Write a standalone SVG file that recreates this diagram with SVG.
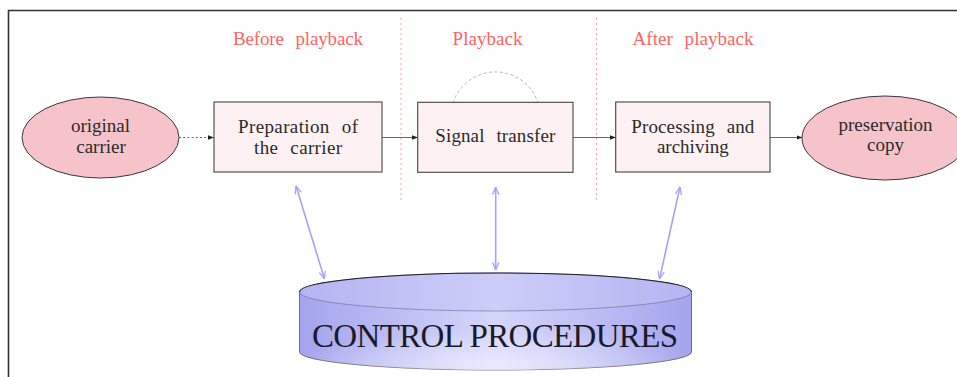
<svg xmlns="http://www.w3.org/2000/svg" width="957" height="377" viewBox="0 0 957 377">
  <style>
    .lbl { font-family: "Liberation Serif", "DejaVu Serif", serif; font-size: 19px; fill: #2b2b2b; text-anchor: middle; word-spacing: 7px; }
    .phase { font-family: "Liberation Serif", "DejaVu Serif", serif; font-size: 19px; fill: #ff6464; text-anchor: middle; word-spacing: 7px; }
    .box { fill: #fdf1f3; stroke: #444; stroke-width: 1.1; }
    .oval { fill: #f6c3ca; stroke: #3a3a3a; stroke-width: 1; }
    .flow { fill: none; stroke: #666; stroke-width: 1; }
    .ctrl { fill: none; stroke: #a3a3ff; stroke-width: 1.6; }
    .sep { fill: none; stroke: #ff9a9a; stroke-width: 0.9; stroke-dasharray: 2 3; }
  </style>
  <defs>
    <marker id="tip" viewBox="0 0 6 6" refX="5.5" refY="3" markerWidth="6" markerHeight="6" markerUnits="userSpaceOnUse" orient="auto">
      <path d="M0,0.8 L6,3 L0,5.2 Z" fill="#222"/>
    </marker>
    <marker id="vtip" viewBox="0 0 10 10" refX="9.5" refY="5" markerWidth="9" markerHeight="9" markerUnits="userSpaceOnUse" orient="auto-start-reverse">
      <path d="M1,1.5 L9.5,5 L1,8.5" fill="none" stroke="#a3a3ff" stroke-width="1.4"/>
    </marker>
    <linearGradient id="cylBody" x1="0" y1="0" x2="1" y2="0">
      <stop offset="0" stop-color="#a4a4ee"/>
      <stop offset="0.5" stop-color="#d6d6fa"/>
      <stop offset="1" stop-color="#a4a4ee"/>
    </linearGradient>
    <radialGradient id="cylGlow" cx="0.5" cy="0.95" r="0.5">
      <stop offset="0" stop-color="#ebebff" stop-opacity="0.9"/>
      <stop offset="1" stop-color="#ebebff" stop-opacity="0"/>
    </radialGradient>
    <linearGradient id="cylTop" x1="0" y1="0" x2="1" y2="0">
      <stop offset="0" stop-color="#b4b4f2"/>
      <stop offset="0.5" stop-color="#cdcdf8"/>
      <stop offset="1" stop-color="#b4b4f2"/>
    </linearGradient>
  </defs>

  <!-- outer frame (top and left edges) -->
  <path d="M8.5,377 L8.5,10.5 L957,10.5" fill="none" stroke="#333" stroke-width="1.6"/>

  <!-- phase separators -->
  <g id="separators">
    <line class="sep" x1="401" y1="18" x2="401" y2="202"/>
    <line class="sep" x1="596.5" y1="18" x2="596.5" y2="202"/>
  </g>

  <!-- phase headings -->
  <g id="headings">
    <text class="phase" x="298" y="45" textLength="130" lengthAdjust="spacing">Before playback</text>
    <text class="phase" x="487.5" y="45" textLength="70" lengthAdjust="spacing">Playback</text>
    <text class="phase" x="693" y="45" textLength="121" lengthAdjust="spacing">After playback</text>
  </g>

  <!-- connectors -->
  <g id="connectors">
    <line class="flow" x1="179" y1="137.5" x2="213.5" y2="137.5" stroke-dasharray="2 2.2" marker-end="url(#tip)"/>
    <line class="flow" x1="382" y1="137.5" x2="417.5" y2="137.5" marker-end="url(#tip)"/>
    <line class="flow" x1="573" y1="137.5" x2="615.5" y2="137.5" marker-end="url(#tip)"/>
    <line class="flow" x1="770" y1="137.5" x2="802" y2="137.5" marker-end="url(#tip)"/>
    <path d="M453,103 A44.6,44.6 0 0 1 538,103" fill="none" stroke="#aaa" stroke-width="0.9" stroke-dasharray="3 2.5"/>
    <line class="ctrl" x1="296" y1="186" x2="324.5" y2="279" marker-start="url(#vtip)" marker-end="url(#vtip)"/>
    <line class="ctrl" x1="495.7" y1="187" x2="495.7" y2="270" marker-start="url(#vtip)" marker-end="url(#vtip)"/>
    <line class="ctrl" x1="680" y1="187" x2="659.5" y2="279" marker-start="url(#vtip)" marker-end="url(#vtip)"/>
  </g>

  <g id="original-carrier">
    <ellipse class="oval" cx="100.5" cy="137.5" rx="78.5" ry="40.5"/>
    <text class="lbl" x="100.5" y="132">original</text>
    <text class="lbl" x="101" y="153">carrier</text>
  </g>

  <g id="preparation">
    <rect class="box" x="214" y="102" width="168" height="70"/>
    <text class="lbl" x="298" y="133" textLength="120" lengthAdjust="spacing">Preparation of</text>
    <text class="lbl" x="298" y="154" textLength="88" lengthAdjust="spacing">the carrier</text>
  </g>

  <g id="signal-transfer">
    <rect class="box" x="417.7" y="102.3" width="155.3" height="70"/>
    <text class="lbl" x="495.3" y="141.7" textLength="120" lengthAdjust="spacing">Signal transfer</text>
  </g>

  <g id="processing">
    <rect class="box" x="615.7" y="102" width="154.3" height="70"/>
    <text class="lbl" x="692.8" y="132.7" textLength="123" lengthAdjust="spacing">Processing and</text>
    <text class="lbl" x="692.8" y="152.5">archiving</text>
  </g>

  <g id="preservation-copy">
    <ellipse class="oval" cx="885" cy="138" rx="83" ry="42"/>
    <text class="lbl" x="885.5" y="131">preservation</text>
    <text class="lbl" x="885.5" y="150.5">copy</text>
  </g>

  <g id="control-procedures">
    <path d="M299.5,292 L299.5,352 A196,18 0 0 0 691.5,352 L691.5,292 Z" fill="url(#cylBody)" stroke="#555" stroke-width="0.8"/>
    <path d="M299.5,292 L299.5,352 A196,18 0 0 0 691.5,352 L691.5,292 Z" fill="url(#cylGlow)" stroke="none"/>
    <ellipse cx="495.5" cy="292" rx="196" ry="19" fill="url(#cylTop)" stroke="#6a6a9a" stroke-width="0.6"/>
    <path d="M299.5,292 A196,19 0 0 1 691.5,292" fill="none" stroke="#222" stroke-width="1.1"/>
    <text x="495" y="346.7" textLength="366" lengthAdjust="spacing" style="font-family: 'Liberation Serif', 'DejaVu Serif', serif; font-size: 33px; fill: #1a1a2a; text-anchor: middle;">CONTROL PROCEDURES</text>
  </g>
</svg>
